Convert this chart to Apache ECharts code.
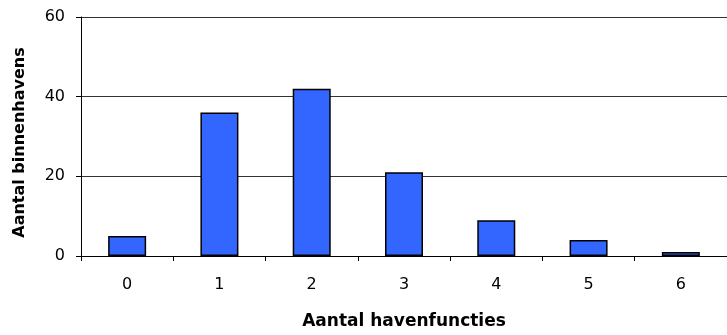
<!DOCTYPE html>
<html>
<head>
<meta charset="utf-8">
<script src="https://cdn.jsdelivr.net/npm/echarts@6/dist/echarts.min.js"></script>
<style>
  html, body { margin: 0; padding: 0; background: #fff; }
  #chart { width: 727px; height: 335px; }
</style>
</head>
<body>
<div id="chart"></div>
<script>
var categories = ["0", "1", "2", "3", "4", "5", "6"];
var counts = [5, 36, 42, 21, 9, 4, 1];
var yTicks = { min: 0, max: 60, interval: 20 };

var font = "'DejaVu Sans', Arial, sans-serif";

var myChart = echarts.init(document.getElementById("chart"), null, { renderer: "canvas" });

var option = {
  backgroundColor: "#fff",
  animation: false,
  grid: {
    left: 81,
    top: 17,
    width: 651,
    height: 240
  },
  xAxis: {
    type: "category",
    data: categories,
    name: "Aantal havenfuncties",
    nameLocation: "middle",
    nameGap: 57,
    nameTextStyle: { fontFamily: font, fontSize: 17, fontWeight: "bold", color: "#000" },
    axisLine: { show: true, lineStyle: { color: "#000", width: 1 } },
    axisTick: { show: true, inside: false, alignWithLabel: false, interval: 0, length: 5, lineStyle: { color: "#000", width: 1 } },
    axisLabel: { margin: 21, fontFamily: font, fontSize: 16, color: "#000" },
    splitLine: { show: false }
  },
  yAxis: {
    type: "value",
    min: yTicks.min,
    max: yTicks.max,
    interval: yTicks.interval,
    name: "Aantal binnenhavens",
    nameLocation: "middle",
    nameGap: 53,
    nameRotate: 90,
    nameTextStyle: { fontFamily: font, fontSize: 16, fontWeight: "bold", color: "#000", padding: [0, 12, 0, 0] },
    axisLine: { show: true, lineStyle: { color: "#000", width: 1 } },
    axisTick: { show: true, inside: false, length: 5, lineStyle: { color: "#000", width: 1 } },
    axisLabel: { margin: 16, fontFamily: font, fontSize: 16, color: "#000" },
    splitLine: { show: true, lineStyle: { color: "#333", width: 1 } }
  },
  series: [
    {
      type: "bar",
      data: counts,
      barWidth: 38,
      itemStyle: {
        color: "#3366ff",
        borderColor: "#000",
        borderWidth: 1.5
      }
    }
  ]
};

myChart.setOption(option);
</script>
</body>
</html>
